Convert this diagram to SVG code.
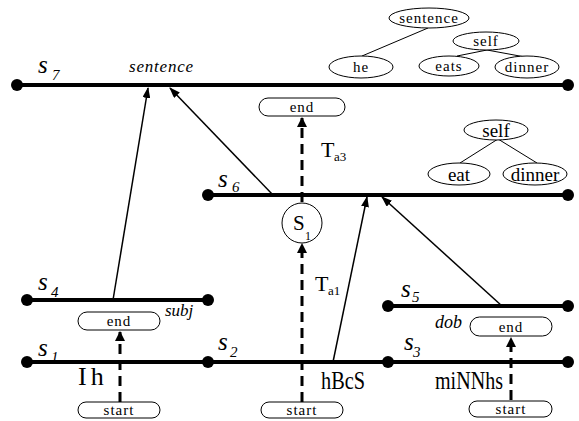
<svg xmlns="http://www.w3.org/2000/svg" width="579" height="421" viewBox="0 0 579 421">
<style>
.bar{stroke:#000;stroke-width:4;fill:none}
.dot{fill:#000}
.arr{stroke:#000;stroke-width:1.5;fill:none}
.dash{stroke:#000;stroke-width:3;stroke-dasharray:10,6;fill:none}
.pill{fill:#fff;stroke:#000;stroke-width:1}
.ell{fill:#fff;stroke:#000;stroke-width:1}
.tl{stroke:#000;stroke-width:1}
text{font-family:"Times New Roman",Times,"Liberation Serif",serif;fill:#000}
.it{font-style:italic}
.lab{font-size:25px;font-style:italic}
.sub{font-size:15px;font-style:italic}
.box{font-size:15px;letter-spacing:1px;text-anchor:middle}
.tr1{font-size:15px;letter-spacing:1px;text-anchor:middle}
.tr2{font-size:19px;text-anchor:middle}
</style>
<defs>
<marker id="ah" markerUnits="userSpaceOnUse" markerWidth="11" markerHeight="8" refX="10" refY="4" orient="auto">
<path d="M0,0 L11,4 L0,8 z" fill="#000"/>
</marker>
<marker id="dh" markerUnits="userSpaceOnUse" markerWidth="10" markerHeight="10" refX="9" refY="5" orient="auto">
<path d="M0,0 L10,5 L0,10 z" fill="#000"/>
</marker>
</defs>

<g id="connectors">
<line class="arr" x1="113" y1="300" x2="148" y2="88" marker-end="url(#ah)"/>
<line class="arr" x1="273" y1="195" x2="170" y2="88" marker-end="url(#ah)"/>
<line class="arr" x1="333" y1="362" x2="367" y2="197" marker-end="url(#ah)"/>
<line class="arr" x1="502" y1="306" x2="382" y2="197" marker-end="url(#ah)"/>
<line class="dash" x1="120" y1="402" x2="120" y2="332" marker-end="url(#dh)"/>
<line class="dash" x1="302" y1="402" x2="302" y2="244" marker-end="url(#dh)"/>
<line class="dash" x1="302" y1="202" x2="302" y2="118" marker-end="url(#dh)"/>
<line class="dash" x1="511" y1="400" x2="511" y2="338" marker-end="url(#dh)"/>
<line class="tl" x1="428" y1="28" x2="362" y2="56"/>
<line class="tl" x1="487" y1="50" x2="457" y2="56"/>
<line class="tl" x1="487" y1="50" x2="525" y2="57"/>
<line class="tl" x1="498" y1="139" x2="460" y2="163"/>
<line class="tl" x1="498" y1="139" x2="537" y2="163"/>
</g>

<g id="s7">
<line class="bar" x1="17" y1="85" x2="568" y2="85"/>
<circle class="dot" cx="17" cy="85" r="6"/>
<circle class="dot" cx="568" cy="85" r="6"/>
<text class="lab" x="38" y="73">s</text><text class="sub" x="52" y="80">7</text>
<text class="it" x="129" y="72" font-size="17" letter-spacing="0.8">sentence</text>
</g>
<g id="s6">
<line class="bar" x1="208" y1="195" x2="568" y2="195"/>
<circle class="dot" cx="208" cy="195" r="6"/>
<circle class="dot" cx="568" cy="195" r="6"/>
<text class="lab" x="218" y="187">s</text><text class="sub" x="232" y="192">6</text>
</g>
<g id="s4">
<line class="bar" x1="27" y1="300" x2="208" y2="300"/>
<circle class="dot" cx="27" cy="300" r="6"/>
<circle class="dot" cx="208" cy="300" r="6"/>
<text class="lab" x="38" y="290">s</text><text class="sub" x="51" y="297">4</text>
<text class="it" x="165" y="316" font-size="17">subj</text>
</g>
<g id="s5">
<line class="bar" x1="388" y1="306" x2="568" y2="306"/>
<circle class="dot" cx="388" cy="306" r="6"/>
<circle class="dot" cx="568" cy="306" r="6"/>
<text class="lab" x="401" y="297">s</text><text class="sub" x="412" y="302">5</text>
<text class="it" x="435" y="328" font-size="18">dob</text>
</g>
<g id="s1">
<line class="bar" x1="27" y1="362" x2="208" y2="362"/>
<circle class="dot" cx="27" cy="362" r="6"/>
<text class="lab" x="38" y="356">s</text><text class="sub" x="51" y="362">1</text>
<text x="78" y="385" font-size="26" letter-spacing="4">Ih</text>
</g>
<g id="s2">
<line class="bar" x1="208" y1="362" x2="388" y2="362"/>
<circle class="dot" cx="208" cy="362" r="6"/>
<text class="lab" x="218" y="350">s</text><text class="sub" x="230" y="357">2</text>
<text x="321" y="389" font-size="26" textLength="44" lengthAdjust="spacingAndGlyphs">hBcS</text>
</g>
<g id="s3">
<line class="bar" x1="388" y1="362" x2="568" y2="362"/>
<circle class="dot" cx="388" cy="362" r="6"/>
<circle class="dot" cx="568" cy="362" r="6"/>
<text class="lab" x="404" y="350">s</text><text class="sub" x="413" y="357">3</text>
<text x="435" y="389" font-size="26" textLength="68" lengthAdjust="spacingAndGlyphs">miNNhs</text>
</g>

<g id="start1"><rect class="pill" x="78" y="402" width="82" height="16" rx="8"/><text class="box" x="119" y="415">start</text></g>
<g id="start2"><rect class="pill" x="261" y="402" width="82" height="16" rx="8"/><text class="box" x="302" y="415">start</text></g>
<g id="start3"><rect class="pill" x="469" y="401" width="83" height="16" rx="8"/><text class="box" x="511" y="414">start</text></g>
<g id="end1"><rect class="pill" x="78" y="312" width="82" height="18" rx="9"/><text class="box" x="119" y="326">end</text></g>
<g id="end2"><rect class="pill" x="259" y="98" width="86" height="18" rx="9"/><text class="box" x="302" y="112">end</text></g>
<g id="end3"><rect class="pill" x="470" y="317" width="82" height="19" rx="9.5"/><text class="box" x="511" y="332">end</text></g>

<g id="S1node">
<circle class="ell" cx="302" cy="223" r="20"/>
<text x="293" y="230" font-size="21">S</text><text x="305" y="240" font-size="12">1</text>
</g>
<g id="Ta3"><text x="321" y="157" font-size="22">T</text><text x="334" y="161" font-size="13">a3</text></g>
<g id="Ta1"><text x="315" y="291" font-size="22">T</text><text x="328" y="295" font-size="13">a1</text></g>

<g id="tree1">
<ellipse class="ell" cx="429" cy="18" rx="40" ry="10"/><text class="tr1" x="429" y="23">sentence</text>
<ellipse class="ell" cx="486" cy="41" rx="33" ry="9"/><text class="tr1" x="486" y="46">self</text>
<ellipse class="ell" cx="361" cy="67" rx="32" ry="11"/><text class="tr1" x="361" y="72">he</text>
<ellipse class="ell" cx="449" cy="66" rx="30" ry="10"/><text class="tr1" x="449" y="71">eats</text>
<ellipse class="ell" cx="527" cy="67" rx="32" ry="11"/><text class="tr1" x="527" y="72">dinner</text>
</g>
<g id="tree2">
<ellipse class="ell" cx="496" cy="130" rx="32" ry="10"/><text class="tr2" x="496" y="137">self</text>
<ellipse class="ell" cx="459" cy="174" rx="31" ry="11"/><text class="tr2" x="459" y="181">eat</text>
<ellipse class="ell" cx="535" cy="174" rx="32" ry="11"/><text class="tr2" x="535" y="181">dinner</text>
</g>
</svg>
